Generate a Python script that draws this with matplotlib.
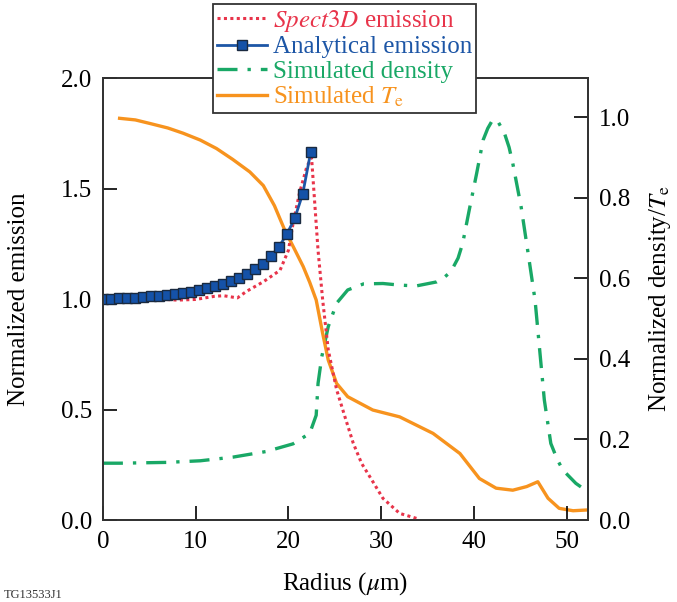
import numpy as np
import matplotlib
matplotlib.use("Agg")
from matplotlib import pyplot as plt

plt.rcParams['font.family'] = ['Liberation Serif', 'DejaVu Serif']
plt.rcParams['mathtext.fontset'] = 'stix'

# analytical emission (square markers)
ana_x = np.arange(27) * 0.862
ana_y = [1.000, 1.000, 1.003, 1.005, 1.006, 1.009, 1.012, 1.015, 1.018, 1.021,
         1.027, 1.032, 1.039, 1.048, 1.057, 1.068, 1.081, 1.096, 1.114, 1.134,
         1.160, 1.193, 1.235, 1.293, 1.365, 1.476, 1.666]

# Spect3D emission
sp_x = [0, 2, 4, 6, 8, 10, 12, 13, 14.5, 15.5, 17.3, 19.1, 20.0, 20.5, 21.2, 22.0,
        22.5, 23.2, 23.7, 24.3, 25.2, 26.1, 27.0, 27.9, 29.0, 30.2, 32.0, 34.0]
sp_y = [1.0, 1.0, 1.0, 1.0, 0.995, 0.998, 1.012, 1.015, 1.005, 1.035, 1.078, 1.13,
        1.22, 1.34, 1.48, 1.6, 1.64, 1.22, 0.995, 0.77, 0.59, 0.467, 0.347, 0.256,
        0.181, 0.098, 0.030, 0.005]

# simulated density (right axis)
den_x = [0, 1.8, 6.9, 10.5, 14.0, 17.6, 20.5, 22.3, 23.0, 23.2, 23.6, 24.3, 25.2,
         26.4, 28.1, 30.2, 32.0, 33.8, 36.0, 36.7, 37.2, 37.7, 38.3, 38.8, 39.5,
         40.3, 41.0, 41.5, 41.9, 42.2, 42.6, 43.3, 43.8, 44.2, 45.1, 45.8, 46.6,
         47.1, 47.6, 48.3, 49.0, 49.6, 51.0, 52.3]
den_y = [0.141, 0.141, 0.143, 0.147, 0.156, 0.170, 0.189, 0.215, 0.260, 0.339,
         0.405, 0.480, 0.538, 0.571, 0.586, 0.587, 0.583, 0.581, 0.591, 0.600,
         0.610, 0.624, 0.650, 0.687, 0.769, 0.860, 0.943, 0.972, 0.988, 0.995,
         0.989, 0.960, 0.925, 0.885, 0.777, 0.670, 0.546, 0.422, 0.298, 0.190,
         0.150, 0.124, 0.091, 0.070]

# simulated Te (right axis)
te_x = [1.8, 3.5, 5.1, 7.0, 8.65, 10.5, 12.25, 14.0, 15.84, 17.3, 18.5, 19.6, 20.6,
        21.6, 22.3, 23.0, 23.7, 24.3, 25.2, 26.4, 29.1, 32.0, 35.6, 38.5, 40.6,
        42.4, 44.2, 45.7, 46.9, 48.0, 49.2, 50.7, 52.3]
te_y = [0.997, 0.993, 0.984, 0.973, 0.960, 0.943, 0.922, 0.895, 0.864, 0.830,
        0.780, 0.720, 0.675, 0.629, 0.590, 0.546, 0.463, 0.397, 0.339, 0.306,
        0.273, 0.256, 0.215, 0.165, 0.103, 0.079, 0.074, 0.083, 0.095, 0.054,
        0.029, 0.023, 0.025]

red = '#e8344a'
blue = '#1d56a6'
green = '#19a866'
orange = '#f7931e'

fig = plt.figure(figsize=(6.77, 6.02), dpi=100)
ax = fig.add_axes([0.152, 0.1362, 0.7164, 0.7342])
ax2 = ax.twinx()

l1, = ax.plot(sp_x, sp_y, color=red, lw=2.2, ls=(0, (1, 1.1)),
              label=r'$\mathit{Spect3D}$ emission')
l2, = ax.plot(ana_x, ana_y, color=blue, lw=2, marker='s', ms=6.5,
              mfc='#1552a8', mec='#1a2a40', mew=1.0, label='Analytical emission')
l3, = ax2.plot(den_x, den_y, color=green, lw=2.4, ls=(0, (6, 3, 1, 3)),
               label='Simulated density')
l4, = ax2.plot(te_x, te_y, color=orange, lw=2.4, label=r'Simulated $T_\mathrm{e}$')

ax.set_zorder(ax2.get_zorder() + 1)
ax.patch.set_visible(False)

ax.set_xlim(0, 52.3)
ax.set_ylim(0, 2.0)
ax2.set_ylim(0, 1.097)
ax.set_xticks([0, 10, 20, 30, 40, 50])
ax.set_yticks([0, 0.5, 1.0, 1.5, 2.0])
ax.set_yticklabels(['0.0', '0.5', '1.0', '1.5', '2.0'])
ax2.set_yticks([0, 0.2, 0.4, 0.6, 0.8, 1.0])
ax2.set_yticklabels(['0.0', '0.2', '0.4', '0.6', '0.8', '1.0'])

for a in (ax, ax2):
    a.tick_params(direction='in', length=10, width=1.2, labelsize=18, pad=8)
    for s in a.spines.values():
        s.set_linewidth(1.3)
        s.set_color('#333333')

ax.set_xlabel(r'Radius ($\mu$m)', fontsize=18, labelpad=12)
ax.set_ylabel('Normalized emission', fontsize=18, labelpad=22)
ax2.set_ylabel(r'Normalized density/$T_\mathrm{e}$', fontsize=18, labelpad=12)

leg = fig.legend(handles=[l1, l2, l3, l4], loc='upper left',
                 bbox_to_anchor=(0.315, 0.993), fontsize=18, frameon=True,
                 fancybox=False, edgecolor='#333333', framealpha=1,
                 handlelength=2.0, handletextpad=0.25, borderpad=0.15,
                 labelspacing=0.08, borderaxespad=0)
leg.get_frame().set_linewidth(1.3)
for t, c in zip(leg.get_texts(), [red, blue, green, orange]):
    t.set_color(c)

fig.text(0.005, 0.002, 'TG13533J1', fontsize=9, color='#333333', va='bottom')

fig.savefig('out.png', dpi=100)
